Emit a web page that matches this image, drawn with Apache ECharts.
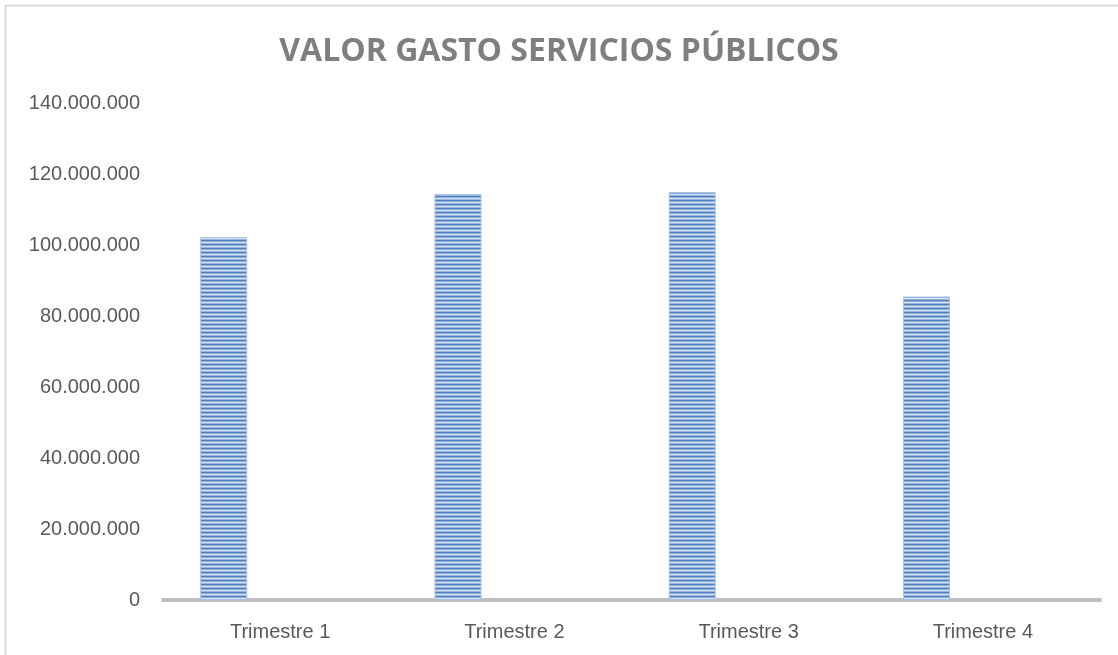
<!DOCTYPE html>
<html>
<head>
<meta charset="utf-8">
<script src="https://cdn.jsdelivr.net/npm/echarts@6/dist/echarts.min.js"></script>
<style>
  html, body { margin: 0; padding: 0; background: #fff; }
  #chart { width: 1118px; height: 655px; }
</style>
</head>
<body>
<div id="chart"></div>
<script>
// data
const categories = ['Trimestre 1', 'Trimestre 2', 'Trimestre 3', 'Trimestre 4'];
const gastoValues = [102200000, 114400000, 114900000, 85500000];
const emptyValues = [null, null, null, null];
const yTicks = [0, 20000000, 40000000, 60000000, 80000000, 100000000, 120000000, 140000000];

// striped fill like the Excel pattern
const makeStripes = () => {
  const c = document.createElement('canvas');
  c.width = 8;
  c.height = 4;
  const ctx = c.getContext('2d');
  const rows = ['#4f80c0', '#8dadda', '#d6e2f3', '#97b5de'];
  rows.forEach((col, i) => {
    ctx.fillStyle = col;
    ctx.fillRect(0, i, 8, 1);
  });
  return c;
};

const fmt = (v) => String(v).replace(/\B(?=(\d{3})+(?!\d))/g, '.');

const chart = echarts.init(document.getElementById('chart'));

const option = {
  animation: false,
  backgroundColor: '#ffffff',
  title: {
    text: 'VALOR GASTO SERVICIOS PÚBLICOS',
    left: 'center',
    top: 31,
    textStyle: {
      fontFamily: 'Open Sans',
      fontWeight: 'bold',
      fontSize: 32,
      color: '#7f7f7f',
    },
  },
  graphic: [
    {
      type: 'rect',
      shape: { x: 5.5, y: 5.5, width: 1200, height: 700 },
      style: { fill: 'none', stroke: '#d9d9d9', lineWidth: 2 },
      silent: true,
    },
  ],
  grid: {
    left: 163,
    right: 18,
    top: 103,
    bottom: 55,
  },
  xAxis: {
    type: 'category',
    data: categories,
    axisLine: { lineStyle: { color: '#bfbfbf', width: 4 } },
    axisTick: { show: false },
    axisLabel: {
      color: '#595959',
      fontFamily: 'Liberation Sans',
      fontSize: 20,
      margin: 22,
    },
  },
  yAxis: {
    type: 'value',
    min: yTicks[0],
    max: yTicks[yTicks.length - 1],
    interval: yTicks[1] - yTicks[0],
    axisLine: { show: false },
    axisTick: { show: false },
    splitLine: { show: false },
    axisLabel: {
      color: '#595959',
      fontFamily: 'Liberation Sans',
      fontSize: 20,
      margin: 23,
      formatter: fmt,
    },
  },
  series: [
    {
      name: 'Valor gasto',
      type: 'bar',
      data: gastoValues,
      barWidth: 47,
      barGap: '140%',
      itemStyle: {
        color: { image: makeStripes(), repeat: 'repeat' },
        borderColor: '#a9c1e4',
        borderWidth: 1,
      },
    },
    {
      name: 'Vacío',
      type: 'bar',
      data: emptyValues,
      barWidth: 47,
    },
  ],
};

chart.setOption(option);
</script>
</body>
</html>
